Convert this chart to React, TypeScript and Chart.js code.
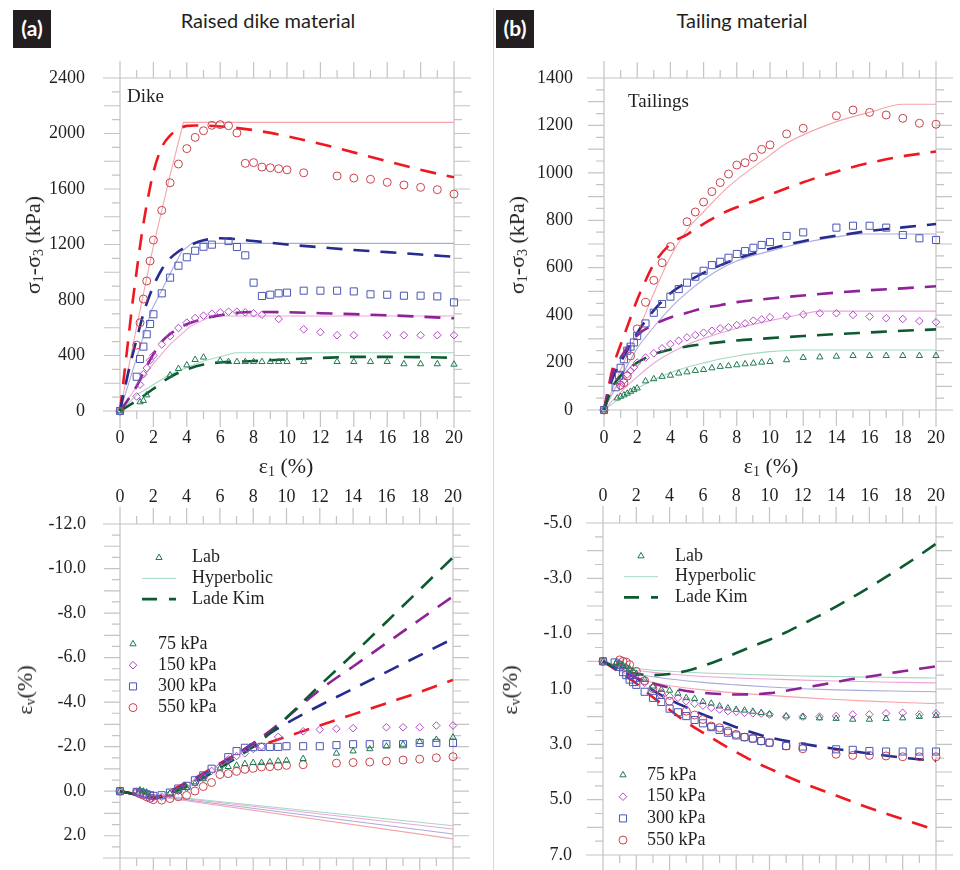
import React, { useEffect, useRef } from "react";
import { Chart, registerables } from "chart.js";
Chart.register(...registerables);

// ---------------- tick labels / categories ----------------
const X_TICKS = [0, 2, 4, 6, 8, 10, 12, 14, 16, 18, 20];
const DIKE_Q_TICKS = [0, 400, 800, 1200, 1600, 2000, 2400];
const TAIL_Q_TICKS = [0, 200, 400, 600, 800, 1000, 1200, 1400];
const DIKE_EV_TICKS = [-12, -10, -8, -6, -4, -2, 0, 2];
const TAIL_EV_TICKS = [-5, -3, -1, 1, 3, 5, 7];
const PRESSURES = ["75 kPa", "150 kPa", "300 kPa", "550 kPa"];
const LEGEND_LABELS = ["Lab", "Hyperbolic", "Lade Kim"];

// ---------------- (a) Dike: lab data ----------------
const DIKE_LAB_X_75 = [0, 1.2, 1.4, 1.6, 3, 3.5, 4, 4.5, 5, 6, 6.5, 7, 7.5, 8, 8.5, 9, 9.5, 10, 11, 13, 14, 15, 16, 17, 18, 19, 20];
const DIKE_Q_LAB_75 = [0, 65, 75, 115, 259, 305, 331, 370, 387, 363, 355, 355, 355, 355, 355, 355, 355, 355, 355, 355, 355, 355, 355, 339, 339, 339, 336];
const DIKE_EV_LAB_75 = [0, -0.05, 0.0, 0.05, 0.1, 0.0, -0.15, -0.35, -0.55, -1.03, -1.1, -1.16, -1.23, -1.28, -1.28, -1.31, -1.35, -1.38, -1.46, -1.7, -1.8, -1.9, -2.02, -2.1, -2.22, -2.32, -2.42];

const DIKE_LAB_X_150 = [0, 1, 1.2, 1.4, 1.6, 1.8, 2, 2.5, 3, 3.5, 4, 4.5, 5, 5.5, 6, 6.5, 7, 7.5, 8, 8.5, 9.5, 11, 12, 13, 14, 16, 17, 18, 19, 20];
const DIKE_Q_LAB_150 = [0, 105, 190, 265, 310, 365, 400, 480, 540, 598, 637, 670, 687, 701, 711, 716, 716, 711, 704, 694, 663, 589, 568, 546, 546, 546, 546, 546, 546, 546];
const DIKE_EV_LAB_150 = [0, 0.05, 0.1, 0.15, 0.2, 0.25, 0.28, 0.25, 0.12, -0.01, -0.16, -0.39, -0.61, -0.91, -1.1, -1.43, -1.58, -1.7, -1.9, -2.02, -2.44, -2.69, -2.77, -2.8, -2.83, -2.87, -2.87, -2.87, -2.95, -2.95];

const DIKE_LAB_X_300 = [0, 1, 1.2, 1.4, 1.6, 1.8, 2, 2.5, 3, 3.5, 4, 4.5, 5, 5.5, 6.5, 7, 7.5, 8, 8.5, 9, 9.5, 10, 11, 12, 13, 14, 15, 16, 17, 18, 19, 20];
const DIKE_Q_LAB_300 = [0, 247, 375, 464, 553, 627, 697, 848, 961, 1047, 1108, 1155, 1184, 1199, 1225, 1182, 1122, 925, 829, 838, 848, 853, 867, 867, 867, 862, 841, 838, 831, 831, 826, 783];
const DIKE_EV_LAB_300 = [0, 0.03, 0.06, 0.1, 0.14, 0.18, 0.21, 0.18, 0.06, -0.12, -0.24, -0.49, -0.71, -1.01, -1.53, -1.8, -1.95, -1.98, -1.99, -1.99, -1.99, -2.02, -2.02, -2.02, -2.07, -2.11, -2.11, -2.11, -2.11, -2.17, -2.17, -2.17];

const DIKE_LAB_X_550 = [0, 1, 1.2, 1.4, 1.6, 1.8, 2, 2.5, 3, 3.5, 4, 4.5, 5, 5.5, 6, 6.5, 7, 7.5, 8, 8.5, 9, 9.5, 10, 11, 13, 14, 15, 16, 17, 18, 19, 20];
const DIKE_Q_LAB_550 = [0, 475, 636, 807, 937, 1081, 1232, 1446, 1645, 1780, 1891, 1972, 2020, 2059, 2064, 2056, 2004, 1785, 1790, 1758, 1753, 1746, 1738, 1717, 1694, 1679, 1670, 1648, 1629, 1612, 1595, 1564];
const DIKE_EV_LAB_550 = [0, 0.05, 0.12, 0.18, 0.25, 0.32, 0.38, 0.4, 0.33, 0.25, 0.19, -0.01, -0.21, -0.39, -0.75, -0.79, -0.89, -0.98, -1.03, -1.09, -1.1, -1.13, -1.16, -1.19, -1.26, -1.29, -1.31, -1.35, -1.4, -1.44, -1.5, -1.55];

// ---------------- (a) Dike: hyperbolic model ----------------
const DIKE_HYP_X_75 = [0, 1, 3, 5, 6.9, 20];
const DIKE_Q_HYP_75 = [0, 115, 265, 360, 420, 420];
const DIKE_HYP_X_150 = [0, 1, 2, 3, 4.2, 5.5, 20];
const DIKE_Q_HYP_150 = [0, 175, 343, 480, 610, 685, 685];
const DIKE_HYP_X_300 = [0, 1, 1.9, 3, 3.7, 4.3, 20];
const DIKE_Q_HYP_300 = [0, 385, 730, 990, 1150, 1208, 1208];
const DIKE_HYP_X_550 = [0, 1, 2, 3, 3.8, 20];
const DIKE_Q_HYP_550 = [0, 610, 1190, 1700, 2080, 2080];

const DIKE_EV_HYP_X = [0, 20];
const DIKE_EV_HYP_75 = [0, 1.55];
const DIKE_EV_HYP_150 = [0, 1.7];
const DIKE_EV_HYP_300 = [0, 1.92];
const DIKE_EV_HYP_550 = [0, 2.14];

// ---------------- (a) Dike: Lade Kim model ----------------
const DIKE_LK_X_75 = [0, 1, 2, 3, 4, 5, 6, 8, 10, 12, 14, 16, 18, 20];
const DIKE_Q_LK_75 = [0, 75, 160, 245, 300, 335, 350, 360, 372, 382, 390, 390, 388, 384];
const DIKE_LK_X_150 = [0, 0.5, 1, 1.5, 2, 2.5, 3, 4, 5, 6, 7, 8, 10, 12, 14, 16, 18, 20];
const DIKE_Q_LK_150 = [0, 85, 180, 300, 410, 500, 555, 625, 665, 690, 708, 714, 712, 705, 698, 690, 680, 668];
const DIKE_LK_X_300 = [0, 0.5, 1, 1.5, 2, 2.5, 3, 3.5, 4, 5, 6, 8, 10, 12, 14, 16, 18, 20];
const DIKE_Q_LK_300 = [0, 280, 520, 740, 900, 1020, 1100, 1150, 1185, 1230, 1245, 1225, 1200, 1180, 1160, 1145, 1128, 1112];
const DIKE_LK_X_550 = [0, 0.25, 0.5, 0.75, 1, 1.25, 1.5, 2, 2.5, 3, 3.5, 4, 4.5, 20];
const DIKE_Q_LK_550 = [0, 260, 520, 780, 1010, 1230, 1420, 1720, 1900, 1985, 2030, 2055, 2058, 1685];

const DIKE_EV_LK_X = [0, 1, 2, 2.5, 3, 4, 5, 6, 7, 8, 9, 10, 12, 14, 16, 18, 20];
const DIKE_EV_LK_75 = [0, 0.15, 0.28, 0.25, 0.1, -0.2, -0.6, -1.05, -1.5, -2.0, -2.6, -3.3, -4.75, -6.15, -7.6, -9.05, -10.5];
const DIKE_EV_LK_150 = [0, 0.15, 0.28, 0.25, 0.05, -0.3, -0.75, -1.2, -1.65, -2.15, -2.7, -3.3, -4.55, -5.6, -6.65, -7.7, -8.75];
const DIKE_EV_LK_300 = [0, 0.15, 0.28, 0.22, 0.05, -0.3, -0.75, -1.2, -1.65, -2.15, -2.6, -3.05, -3.85, -4.6, -5.35, -6.1, -6.85];
const DIKE_EV_LK_550 = [0, 0.15, 0.28, 0.2, 0.0, -0.4, -0.8, -1.25, -1.65, -2.0, -2.2, -2.45, -2.95, -3.45, -3.95, -4.45, -5.0];

// ---------------- (b) Tailings: lab data ----------------
const TAIL_LAB_X_75 = [0, 0.8, 1, 1.2, 1.4, 1.6, 1.8, 2, 2.5, 3, 3.5, 4, 4.5, 5, 5.5, 6, 6.5, 7, 7.5, 8, 8.5, 9, 9.5, 10, 11, 12, 13, 14, 15, 16, 17, 18, 19, 20];
const TAIL_Q_LAB_75 = [0, 50, 57, 63, 70, 78, 85, 92, 122, 131, 141, 146, 155, 160, 166, 170, 177, 183, 186, 190, 194, 197, 201, 204, 211, 221, 223, 226, 229, 229, 229, 229, 229, 229];
const TAIL_EV_LAB_75 = [0, 0.05, 0.1, 0.15, 0.2, 0.27, 0.35, 0.45, 0.66, 0.9, 1.02, 1.05, 1.16, 1.32, 1.35, 1.46, 1.52, 1.62, 1.69, 1.74, 1.77, 1.81, 1.86, 1.91, 1.98, 2.01, 2.05, 2.07, 2.1, 2.1, 2.07, 2.05, 2.0, 1.96];

const TAIL_LAB_X_150 = [0, 1, 1.2, 1.4, 1.6, 1.8, 2, 2.5, 3, 3.5, 4, 4.5, 5, 5.5, 6, 6.5, 7, 7.5, 8, 8.5, 9, 9.5, 10, 11, 12, 13, 14, 15, 16, 17, 18, 19, 20];
const TAIL_Q_LAB_150 = [0, 100, 125, 150, 165, 180, 200, 221, 239, 260, 278, 292, 306, 316, 326, 334, 344, 349, 358, 365, 377, 382, 391, 396, 403, 408, 408, 401, 394, 387, 384, 375, 370];
const TAIL_EV_LAB_150 = [0, 0.1, 0.18, 0.25, 0.32, 0.4, 0.48, 0.78, 0.95, 1.14, 1.26, 1.32, 1.44, 1.53, 1.6, 1.68, 1.74, 1.8, 1.82, 1.86, 1.88, 1.89, 1.92, 2.0, 2.0, 2.0, 1.98, 1.92, 1.92, 1.88, 1.86, 1.92, 1.88];

const TAIL_LAB_X_300 = [0, 0.7, 0.9, 1, 1.2, 1.4, 1.6, 1.8, 2, 2.5, 3, 3.5, 4, 4.5, 5, 5.5, 6, 6.5, 7, 7.5, 8, 8.5, 9, 9.5, 10, 11, 12, 14, 15, 16, 17, 18, 19, 20];
const TAIL_Q_LAB_300 = [0, 96, 145, 178, 214, 250, 267, 285, 312, 365, 410, 447, 478, 510, 537, 562, 587, 611, 625, 642, 658, 670, 684, 696, 708, 734, 749, 769, 777, 777, 769, 738, 724, 717];
const TAIL_EV_LAB_300 = [0, 0.04, 0.12, 0.2, 0.39, 0.5, 0.66, 0.75, 0.85, 1.1, 1.32, 1.47, 1.71, 1.84, 1.98, 2.12, 2.24, 2.38, 2.48, 2.58, 2.68, 2.74, 2.79, 2.88, 2.94, 3.06, 3.08, 3.18, 3.2, 3.24, 3.26, 3.26, 3.26, 3.26];

const TAIL_LAB_X_550 = [0, 1, 1.2, 1.4, 1.6, 2, 2.5, 3, 3.5, 4, 5, 5.5, 6, 6.5, 7, 7.5, 8, 8.5, 9, 9.5, 10, 11, 12, 14, 15, 16, 17, 18, 19, 20];
const TAIL_Q_LAB_550 = [0, 105, 115, 143, 228, 342, 454, 547, 621, 689, 794, 835, 877, 921, 959, 995, 1033, 1043, 1066, 1099, 1118, 1164, 1188, 1241, 1265, 1255, 1244, 1230, 1209, 1205];
const TAIL_EV_LAB_550 = [0, -0.05, 0.0, 0.03, 0.12, 0.36, 0.7, 0.98, 1.2, 1.44, 1.8, 1.94, 2.1, 2.34, 2.4, 2.52, 2.64, 2.74, 2.79, 2.88, 2.94, 3.06, 3.16, 3.36, 3.4, 3.4, 3.42, 3.45, 3.45, 3.45];

// ---------------- (b) Tailings: hyperbolic model ----------------
const TAIL_HYP_X_75 = [0, 1, 2, 3, 4, 5, 6, 7, 8, 10, 12, 20];
const TAIL_Q_HYP_75 = [0, 50, 92, 128, 157, 180, 198, 215, 228, 246, 253, 253];
const TAIL_HYP_X_150 = [0, 1, 2, 3, 4, 5, 6, 8, 10, 12, 13, 20];
const TAIL_Q_HYP_150 = [0, 75, 140, 197, 240, 275, 302, 345, 377, 405, 417, 417];
const TAIL_HYP_X_300 = [0, 1, 2, 3, 4, 5, 6, 7, 8, 9, 10, 12, 14, 15.5, 20];
const TAIL_Q_HYP_300 = [0, 135, 260, 350, 430, 495, 550, 595, 628, 652, 670, 705, 730, 742, 742];
const TAIL_HYP_X_550 = [0, 1, 2, 3, 4, 5, 6, 7.5, 10, 11, 14, 16, 18, 20];
const TAIL_Q_HYP_550 = [0, 170, 323, 492, 646, 759, 836, 942, 1075, 1125, 1216, 1255, 1289, 1289];

const TAIL_EV_HYP_X = [0, 1, 2, 3, 4, 6, 8, 10, 12, 14, 16, 18, 20];
const TAIL_EV_HYP_75 = [0, 0.17, 0.26, 0.32, 0.36, 0.42, 0.46, 0.5, 0.53, 0.55, 0.57, 0.59, 0.6];
const TAIL_EV_HYP_150 = [0, 0.2, 0.32, 0.4, 0.46, 0.55, 0.6, 0.64, 0.68, 0.71, 0.74, 0.76, 0.78];
const TAIL_EV_HYP_300 = [0, 0.28, 0.45, 0.56, 0.64, 0.76, 0.85, 0.93, 0.99, 1.03, 1.06, 1.08, 1.1];
const TAIL_EV_HYP_550 = [0, 0.35, 0.6, 0.76, 0.88, 1.03, 1.14, 1.23, 1.31, 1.38, 1.44, 1.49, 1.53];

// ---------------- (b) Tailings: Lade Kim model ----------------
const TAIL_LK_X_75 = [0, 0.5, 1, 2, 3, 4, 5, 6, 8, 10, 12, 14, 16, 18, 20];
const TAIL_Q_LK_75 = [0, 95, 145, 200, 235, 255, 268, 278, 293, 303, 312, 320, 327, 334, 340];
const TAIL_LK_X_150 = [0, 0.5, 1, 2, 3, 4, 5, 6, 7, 8, 10, 12, 14, 16, 18, 20];
const TAIL_Q_LK_150 = [0, 150, 220, 315, 360, 390, 410, 430, 442, 455, 470, 483, 495, 505, 513, 522];
const TAIL_LK_X_300 = [0, 0.5, 1, 2, 3, 4, 5, 6, 7, 8, 9, 10, 12, 14, 16, 18, 20];
const TAIL_Q_LK_300 = [0, 130, 200, 325, 420, 492, 540, 578, 610, 638, 660, 680, 712, 735, 755, 770, 784];
const TAIL_LK_X_550 = [0, 0.5, 1, 1.5, 2, 2.5, 3, 4, 5, 6, 7, 8, 9, 10, 11, 12, 13, 14, 15, 16, 17, 18, 19, 20];
const TAIL_Q_LK_550 = [0, 170, 275, 370, 465, 545, 615, 700, 740, 785, 825, 855, 880, 908, 935, 960, 984, 1005, 1025, 1042, 1057, 1070, 1080, 1090];

const TAIL_EV_LK_X_75 = [0, 1, 2, 3, 4, 5, 6, 7, 8, 9, 10, 11, 12, 13, 14, 15, 16, 17, 18, 19, 20];
const TAIL_EV_LK_75 = [0, 0.3, 0.45, 0.5, 0.46, 0.35, 0.17, -0.05, -0.3, -0.55, -0.78, -1.05, -1.35, -1.65, -1.98, -2.32, -2.68, -3.05, -3.43, -3.83, -4.25];
const TAIL_EV_LK_X_150 = [0, 1, 2, 3, 4, 5, 6, 7, 8, 9, 10, 11, 12, 13, 14, 15, 16, 17, 18, 19, 20];
const TAIL_EV_LK_150 = [0, 0.35, 0.6, 0.8, 0.95, 1.07, 1.14, 1.18, 1.2, 1.19, 1.15, 1.06, 0.96, 0.86, 0.75, 0.64, 0.55, 0.45, 0.36, 0.27, 0.18];
const TAIL_EV_LK_X_300 = [0, 1, 2, 3, 4, 5, 6, 7, 8, 10, 12, 14, 16, 18, 20];
const TAIL_EV_LK_300 = [0, 0.3, 0.6, 1.05, 1.38, 1.66, 1.92, 2.15, 2.38, 2.75, 2.98, 3.17, 3.33, 3.48, 3.6];
const TAIL_EV_LK_X_550 = [0, 1, 2, 3, 4, 5, 6, 7, 8, 9, 10, 12, 14, 16, 18, 20];
const TAIL_EV_LK_550 = [0, 0.4, 0.8, 1.3, 1.75, 2.2, 2.58, 2.94, 3.28, 3.6, 3.88, 4.4, 4.85, 5.3, 5.7, 6.1];

// ---------------- styles ----------------
const SERIF = '"Liberation Serif", "Times New Roman", serif';
const SANS = 'Lato, "Open Sans", sans-serif';
const TEXT = "#231f20";
const FRAME = "#c4c4c4";
const LAB_MARKERS = ["triangle", "rectRot", "rect", "circle"];
const LAB_RADII = [3.6, 3.8, 5, 4];
const LAB_COLORS = ["#1f7a50", "#b24cc4", "#4a56b6", "#c9434e"];
const HYP_COLORS = ["#a3d9c2", "#eaa6d8", "#aaaade", "#f6a4aa"];
const LK_COLORS = ["#0d5a30", "#8f2297", "#262b90", "#f01820"];

Chart.defaults.font.family = SERIF;
Chart.defaults.font.size = 18;

type Series = [number[], number[]];

const pts = (xs: number[], ys: number[]) => xs.map((x, i) => ({ x, y: ys[i] }));
const isMult = (v: number, s: number) => Math.abs(v / s - Math.round(v / s)) < 1e-6;

function drawMarker(ctx: CanvasRenderingContext2D, kind: string, color: string, x: number, y: number, r: number) {
  ctx.save();
  ctx.strokeStyle = color;
  ctx.lineWidth = 1;
  ctx.beginPath();
  if (kind === "circle") {
    ctx.arc(x, y, r, 0, Math.PI * 2);
  } else if (kind === "rect") {
    const s = r * Math.SQRT1_2;
    ctx.rect(x - s, y - s, 2 * s, 2 * s);
  } else if (kind === "rectRot") {
    ctx.moveTo(x, y - r);
    ctx.lineTo(x + r, y);
    ctx.lineTo(x, y + r);
    ctx.lineTo(x - r, y);
    ctx.closePath();
  } else {
    const a = -Math.PI / 2;
    for (let k = 0; k < 3; k++) {
      const t = a + (k * 2 * Math.PI) / 3;
      const px = x + Math.cos(t) * r;
      const py = y + Math.sin(t) * r;
      if (k === 0) ctx.moveTo(px, py);
      else ctx.lineTo(px, py);
    }
    ctx.closePath();
  }
  ctx.stroke();
  ctx.restore();
}

// frame with extended axis lines, outside ticks and the tick labels
const framePlugin = {
  id: "frameTicks",
  beforeDatasetsDraw(chart: any, _a: any, o: any) {
    const { ctx, chartArea: a } = chart;
    const xs = chart.scales.x;
    const ys = chart.scales.y;
    const E = 17, MAJ = 16, MIN = 8;
    ctx.save();
    ctx.strokeStyle = FRAME;
    ctx.lineWidth = 1.2;
    ctx.beginPath();
    ctx.moveTo(a.left - E, a.top); ctx.lineTo(a.right + E, a.top);
    ctx.moveTo(a.left - E, a.bottom); ctx.lineTo(a.right + E, a.bottom);
    ctx.moveTo(a.left, a.top - E); ctx.lineTo(a.left, a.bottom + E);
    ctx.moveTo(a.right, a.top - E); ctx.lineTo(a.right, a.bottom + E);
    const nx = Math.round((xs.max - xs.min) / o.xMinor);
    for (let i = 0; i <= nx; i++) {
      const v = xs.min + i * o.xMinor;
      const p = xs.getPixelForValue(v);
      const len = isMult(v, o.xMajor) ? MAJ : MIN;
      ctx.moveTo(p, a.top); ctx.lineTo(p, a.top - len);
      ctx.moveTo(p, a.bottom); ctx.lineTo(p, a.bottom + len);
    }
    const ny = Math.round((ys.max - ys.min) / o.yMinor);
    for (let i = 0; i <= ny; i++) {
      const v = ys.min + i * o.yMinor;
      const p = ys.getPixelForValue(v);
      const len = isMult(v, o.yMajor) ? MAJ : MIN;
      ctx.moveTo(a.left, p); ctx.lineTo(a.left - len, p);
      ctx.moveTo(a.right, p); ctx.lineTo(a.right + len, p);
    }
    ctx.stroke();

    // tick labels
    ctx.fillStyle = TEXT;
    ctx.font = `18px ${SERIF}`;
    ctx.textBaseline = "middle";
    ctx.textAlign = "center";
    const ly = o.xPos === "top" ? a.top - o.xOff : a.bottom + o.xOff;
    for (const v of o.xTicks) ctx.fillText(String(v), xs.getPixelForValue(v), ly);
    ctx.textAlign = "right";
    for (const v of o.yTicks) ctx.fillText(o.fmt(v), a.left - o.yPad, ys.getPixelForValue(v));
    ctx.restore();
  },
};

const legendPlugin = {
  id: "panelLegend",
  afterDraw(chart: any, _a: any, o: any) {
    const ctx: CanvasRenderingContext2D = chart.ctx;
    ctx.save();
    ctx.fillStyle = TEXT;
    if (o.note) {
      ctx.font = `19px ${SERIF}`;
      ctx.textBaseline = "alphabetic";
      ctx.textAlign = "left";
      ctx.fillText(o.note.text, o.note.x, o.note.y);
    }
    ctx.font = `18px ${SERIF}`;
    ctx.textBaseline = "middle";
    ctx.textAlign = "left";
    if (o.header) {
      const h = o.header;
      drawMarker(ctx, LAB_MARKERS[0], LAB_COLORS[0], h.mx, h.y, LAB_RADII[0]);
      ctx.fillText(LEGEND_LABELS[0], h.tx, h.y);
      ctx.save();
      ctx.strokeStyle = HYP_COLORS[0];
      ctx.lineWidth = 1;
      ctx.beginPath();
      ctx.moveTo(h.l1, h.y + h.dy); ctx.lineTo(h.l2, h.y + h.dy);
      ctx.stroke();
      ctx.strokeStyle = LK_COLORS[0];
      ctx.lineWidth = 2.6;
      ctx.setLineDash([15, 12]);
      ctx.beginPath();
      ctx.moveTo(h.l1, h.y + 2 * h.dy); ctx.lineTo(h.l2, h.y + 2 * h.dy);
      ctx.stroke();
      ctx.restore();
      ctx.fillText(LEGEND_LABELS[1], h.tx, h.y + h.dy);
      ctx.fillText(LEGEND_LABELS[2], h.tx, h.y + 2 * h.dy);
    }
    if (o.kpa) {
      const k = o.kpa;
      for (let i = 0; i < 4; i++) {
        const y = k.y + i * k.dy;
        drawMarker(ctx, LAB_MARKERS[i], LAB_COLORS[i], k.mx, y, LAB_RADII[i]);
        ctx.fillText(PRESSURES[i], k.tx, y);
      }
    }
    ctx.restore();
  },
};

type PanelSpec = {
  left: number; top: number; w: number; h: number;
  padding: { top: number; right: number; bottom: number; left: number };
  xPos: "top" | "bottom"; xH: number; xOff: number;
  yW: number; yPad: number; yMin: number; yMax: number; reverse: boolean;
  yTicks: number[]; fmt: (v: number) => string;
  yMinor: number; yMajor: number; smoothHyp: boolean;
  lab: Series[]; hyp: Series[]; lk: Series[];
  legend: any;
};

function buildChart(canvas: HTMLCanvasElement, p: PanelSpec) {
  const datasets: any[] = [];
  for (let i = 0; i < 4; i++) {
    datasets.push({
      label: PRESSURES[i] + " Lab",
      data: pts(p.lab[i][0], p.lab[i][1]),
      showLine: false,
      pointStyle: LAB_MARKERS[i],
      pointRadius: LAB_RADII[i],
      pointHoverRadius: LAB_RADII[i],
      pointBorderColor: LAB_COLORS[i],
      pointBackgroundColor: "rgba(0,0,0,0)",
      pointBorderWidth: 1,
      order: 0,
      clip: false,
    });
    datasets.push({
      label: PRESSURES[i] + " Hyperbolic",
      data: pts(p.hyp[i][0], p.hyp[i][1]),
      showLine: true,
      borderColor: HYP_COLORS[i],
      borderWidth: 1.1,
      pointRadius: 0,
      cubicInterpolationMode: p.smoothHyp ? "monotone" : "default",
      tension: 0,
      order: 2,
      clip: false,
    });
    datasets.push({
      label: PRESSURES[i] + " Lade Kim",
      data: pts(p.lk[i][0], p.lk[i][1]),
      showLine: true,
      borderColor: LK_COLORS[i],
      borderWidth: 2.6,
      borderDash: [16, 11],
      pointRadius: 0,
      cubicInterpolationMode: "monotone",
      order: 1,
      clip: false,
    });
  }
  return new Chart(canvas, {
    type: "scatter",
    data: { datasets },
    options: {
      responsive: false,
      animation: false,
      events: [],
      layout: { padding: p.padding },
      scales: {
        x: {
          type: "linear",
          position: p.xPos,
          min: 0,
          max: 20,
          afterFit: (s: any) => { s.height = p.xH; },
          grid: { display: false, drawTicks: false },
          border: { display: false },
          ticks: { display: false },
        },
        y: {
          type: "linear",
          min: p.yMin,
          max: p.yMax,
          reverse: p.reverse,
          afterFit: (s: any) => { s.width = p.yW; },
          grid: { display: false, drawTicks: false },
          border: { display: false },
          ticks: { display: false },
        },
      },
      plugins: {
        legend: { display: false },
        tooltip: { enabled: false },
        frameTicks: {
          xMinor: 1, xMajor: 2, yMinor: p.yMinor, yMajor: p.yMajor,
          xTicks: X_TICKS, yTicks: p.yTicks, fmt: p.fmt, xPos: p.xPos, xOff: p.xOff, yPad: p.yPad,
        },
        panelLegend: p.legend,
      } as any,
    } as any,
    plugins: [framePlugin, legendPlugin] as any,
  });
}

const fmtInt = (v: number) => String(v);
const fmt1 = (v: number) => v.toFixed(1);

const PANELS: PanelSpec[] = [
  {
    left: 0, top: 50, w: 480, h: 400,
    padding: { top: 28, right: 26, bottom: 0, left: 0 },
    xPos: "bottom", xH: 39, xOff: 27.5,
    yW: 120, yPad: 35, yMin: 0, yMax: 2400, reverse: false,
    yTicks: DIKE_Q_TICKS, fmt: fmtInt, yMinor: 100, yMajor: 200, smoothHyp: false,
    lab: [[DIKE_LAB_X_75, DIKE_Q_LAB_75], [DIKE_LAB_X_150, DIKE_Q_LAB_150], [DIKE_LAB_X_300, DIKE_Q_LAB_300], [DIKE_LAB_X_550, DIKE_Q_LAB_550]],
    hyp: [[DIKE_HYP_X_75, DIKE_Q_HYP_75], [DIKE_HYP_X_150, DIKE_Q_HYP_150], [DIKE_HYP_X_300, DIKE_Q_HYP_300], [DIKE_HYP_X_550, DIKE_Q_HYP_550]],
    lk: [[DIKE_LK_X_75, DIKE_Q_LK_75], [DIKE_LK_X_150, DIKE_Q_LK_150], [DIKE_LK_X_300, DIKE_Q_LK_300], [DIKE_LK_X_550, DIKE_Q_LK_550]],
    legend: { note: { text: "Dike", x: 127, y: 52 } },
  },
  {
    left: 494, top: 50, w: 466, h: 400,
    padding: { top: 28, right: 24, bottom: 0, left: 0 },
    xPos: "bottom", xH: 40, xOff: 28,
    yW: 110, yPad: 31, yMin: 0, yMax: 1400, reverse: false,
    yTicks: TAIL_Q_TICKS, fmt: fmtInt, yMinor: 50, yMajor: 100, smoothHyp: true,
    lab: [[TAIL_LAB_X_75, TAIL_Q_LAB_75], [TAIL_LAB_X_150, TAIL_Q_LAB_150], [TAIL_LAB_X_300, TAIL_Q_LAB_300], [TAIL_LAB_X_550, TAIL_Q_LAB_550]],
    hyp: [[TAIL_HYP_X_75, TAIL_Q_HYP_75], [TAIL_HYP_X_150, TAIL_Q_HYP_150], [TAIL_HYP_X_300, TAIL_Q_HYP_300], [TAIL_HYP_X_550, TAIL_Q_HYP_550]],
    lk: [[TAIL_LK_X_75, TAIL_Q_LK_75], [TAIL_LK_X_150, TAIL_Q_LK_150], [TAIL_LK_X_300, TAIL_Q_LK_300], [TAIL_LK_X_550, TAIL_Q_LK_550]],
    legend: { note: { text: "Tailings", x: 134, y: 56.5 } },
  },
  {
    left: 0, top: 470, w: 480, h: 400,
    padding: { top: 0, right: 27, bottom: 12, left: 0 },
    xPos: "top", xH: 54, xOff: 26.5,
    yW: 120, yPad: 34, yMin: -12, yMax: 3, reverse: true,
    yTicks: DIKE_EV_TICKS, fmt: fmt1, yMinor: 0.5, yMajor: 1, smoothHyp: false,
    lab: [[DIKE_LAB_X_75, DIKE_EV_LAB_75], [DIKE_LAB_X_150, DIKE_EV_LAB_150], [DIKE_LAB_X_300, DIKE_EV_LAB_300], [DIKE_LAB_X_550, DIKE_EV_LAB_550]],
    hyp: [[DIKE_EV_HYP_X, DIKE_EV_HYP_75], [DIKE_EV_HYP_X, DIKE_EV_HYP_150], [DIKE_EV_HYP_X, DIKE_EV_HYP_300], [DIKE_EV_HYP_X, DIKE_EV_HYP_550]],
    lk: [[DIKE_EV_LK_X, DIKE_EV_LK_75], [DIKE_EV_LK_X, DIKE_EV_LK_150], [DIKE_EV_LK_X, DIKE_EV_LK_300], [DIKE_EV_LK_X, DIKE_EV_LK_550]],
    legend: {
      header: { mx: 159, tx: 192, y: 87.7, dy: 20.7, l1: 142, l2: 176 },
      kpa: { mx: 133, tx: 158, y: 174, dy: 21.2 },
    },
  },
  {
    left: 494, top: 470, w: 466, h: 400,
    padding: { top: 0, right: 24, bottom: 15, left: 0 },
    xPos: "top", xH: 53, xOff: 27,
    yW: 109, yPad: 31, yMin: -5, yMax: 7, reverse: true,
    yTicks: TAIL_EV_TICKS, fmt: fmt1, yMinor: 0.5, yMajor: 1, smoothHyp: true,
    lab: [[TAIL_LAB_X_75, TAIL_EV_LAB_75], [TAIL_LAB_X_150, TAIL_EV_LAB_150], [TAIL_LAB_X_300, TAIL_EV_LAB_300], [TAIL_LAB_X_550, TAIL_EV_LAB_550]],
    hyp: [[TAIL_EV_HYP_X, TAIL_EV_HYP_75], [TAIL_EV_HYP_X, TAIL_EV_HYP_150], [TAIL_EV_HYP_X, TAIL_EV_HYP_300], [TAIL_EV_HYP_X, TAIL_EV_HYP_550]],
    lk: [[TAIL_EV_LK_X_75, TAIL_EV_LK_75], [TAIL_EV_LK_X_150, TAIL_EV_LK_150], [TAIL_EV_LK_X_300, TAIL_EV_LK_300], [TAIL_EV_LK_X_550, TAIL_EV_LK_550]],
    legend: {
      header: { mx: 147, tx: 181, y: 86, dy: 20.7, l1: 130, l2: 164 },
      kpa: { mx: 129, tx: 153, y: 305, dy: 21.7 },
    },
  },
];

function Panel({ spec }: { spec: PanelSpec }) {
  const ref = useRef<HTMLCanvasElement>(null);
  useEffect(() => {
    const chart = buildChart(ref.current as HTMLCanvasElement, spec);
    return () => chart.destroy();
  }, [spec]);
  return (
    <canvas
      ref={ref}
      width={spec.w}
      height={spec.h}
      style={{ position: "absolute", left: spec.left, top: spec.top, width: spec.w, height: spec.h }}
    />
  );
}

const abs = (s: React.CSSProperties): React.CSSProperties => ({ position: "absolute", ...s });
const subStyle: React.CSSProperties = { fontSize: 14, verticalAlign: "-3px" };

function YTitle({ cx, cy, children }: { cx: number; cy: number; children: React.ReactNode }) {
  return (
    <div
      style={abs({
        left: cx,
        top: cy,
        transform: "translate(-50%, -50%) rotate(-90deg)",
        whiteSpace: "nowrap",
        fontFamily: SERIF,
        fontSize: 22,
        lineHeight: "22px",
        color: TEXT,
      })}
    >
      {children}
    </div>
  );
}

function XTitle({ cx, top }: { cx: number; top: number }) {
  return (
    <div style={abs({ left: cx - 80, width: 160, top, textAlign: "center", fontFamily: SERIF, fontSize: 22, lineHeight: "22px", color: TEXT, whiteSpace: "nowrap" })}>
      ε<sub style={subStyle}>1</sub> (%)
    </div>
  );
}

export default function App() {
  return (
    <div style={abs({ left: 0, top: 0, width: 960, height: 870, background: "#ffffff", overflow: "hidden" })}>
      <div style={abs({ left: 493, top: 8, width: 1, height: 862, background: "#d6d6d6" })} />
      <div style={abs({ left: 13, top: 10, width: 38, height: 38, background: "#231f20", color: "#fff", fontFamily: SANS, fontWeight: 700, fontSize: 21, lineHeight: "36px", textAlign: "center" })}>(a)</div>
      <div style={abs({ left: 496, top: 10, width: 38, height: 38, background: "#231f20", color: "#fff", fontFamily: SANS, fontWeight: 700, fontSize: 21, lineHeight: "36px", textAlign: "center" })}>(b)</div>
      <div style={abs({ left: 118, width: 300, top: 8, textAlign: "center", fontFamily: SANS, fontSize: 20, lineHeight: "24px", color: TEXT })}>Raised dike material</div>
      <div style={abs({ left: 592, width: 300, top: 8, textAlign: "center", fontFamily: SANS, fontSize: 20, lineHeight: "24px", color: TEXT })}>Tailing material</div>

      {PANELS.map((p, i) => (
        <Panel key={i} spec={p} />
      ))}

      <XTitle cx={286} top={455} />
      <XTitle cx={771} top={455} />
      <YTitle cx={36} cy={245}>
        σ<sub style={subStyle}>1</sub>-σ<sub style={subStyle}>3</sub> (kPa)
      </YTitle>
      <YTitle cx={520} cy={245}>
        σ<sub style={subStyle}>1</sub>-σ<sub style={subStyle}>3</sub> (kPa)
      </YTitle>
      <YTitle cx={28} cy={690}>
        ε<sub style={subStyle}>v</sub>(%)
      </YTitle>
      <YTitle cx={513} cy={690}>
        ε<sub style={subStyle}>v</sub>(%)
      </YTitle>
    </div>
  );
}
